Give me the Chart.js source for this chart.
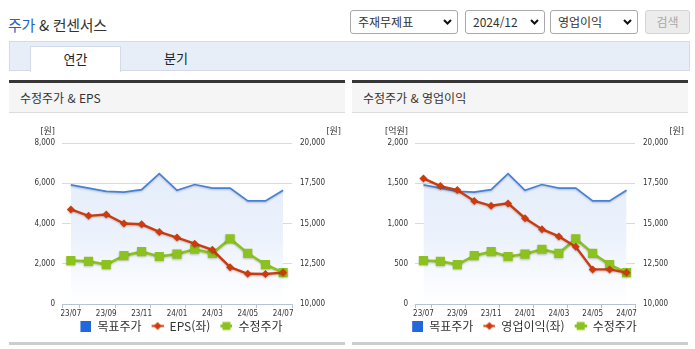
<!DOCTYPE html>
<html lang="ko">
<head>
<meta charset="utf-8">
<title>주가 &amp; 컨센서스</title>
<script src="https://cdn.jsdelivr.net/npm/chart.js@4.4.1/dist/chart.umd.min.js"></script>
<style>
  html, body { margin: 0; padding: 0; background: #fff; }
  body { width: 695px; height: 349px; position: relative; overflow: hidden;
         font-family: 'Noto Sans CJK KR', 'Noto Sans', sans-serif; color: #333; }
  #title { position: absolute; left: 8px; top: 14px; font-size: 15px; line-height: 22px;
           letter-spacing: -0.3px; white-space: nowrap; color: #333; }
  #title .hl { color: #1f63c9; }
  .sel { position: absolute; top: 10px; height: 22px; border: 1px solid #a9a9a9; border-radius: 3px;
         background: #fff; font-size: 12px; line-height: 22px; white-space: nowrap; }
  .sel span { position: absolute; left: 7px; top: 0; }
  .sel svg { position: absolute; right: 5px; top: 8px; }
  #btn { position: absolute; left: 645px; top: 10px; width: 43px; height: 22px; border: 1px solid #d4d4d4;
         border-radius: 3px; background: #ececec; color: #a8a8a8; font-size: 12px; line-height: 22px; text-align: center; }
  #tabbar { position: absolute; left: 9px; top: 41px; width: 679px; height: 28px; background: #e8eef8;
            border: 1px solid #d3dbe9; }
  #tabOn { position: absolute; left: 30px; top: 46px; width: 89px; height: 25px; background: #fff;
           border: 1px solid #d3dbe9; border-bottom: none; font-size: 13px; line-height: 24px; text-align: center; color: #222; }
  #tabOff { position: absolute; left: 150px; top: 46px; width: 52px; font-size: 13px; line-height: 24px; text-align: center; color: #222; }
  .panel { position: absolute; top: 80px; width: 336px; height: 265px; }
  .panel .bar { position: absolute; left: 0; top: 0; width: 100%; height: 3px; background: #363636; }
  .panel .head { position: absolute; left: 0; top: 3px; width: 100%; height: 29px; background: #f5f5f5;
                 border-bottom: 1px solid #dcdcdc; }
  .panel .head span { position: absolute; left: 11px; top: 0; font-size: 12px; line-height: 29px; color: #333; white-space: nowrap; }
  .panel .foot { position: absolute; left: 0; top: 262px; width: 100%; height: 3px; background: #cdcdcd; }
  .panel canvas { position: absolute; left: 0; top: 33px; }
</style>
</head>
<body>
<div id="title"><span class="hl">주가</span> &amp; 컨센서스</div>

<div class="sel" style="left:350px;width:106px;"><span>주재무제표</span>
  <svg width="9" height="6"><path d="M1 1 L4.5 4.5 L8 1" fill="none" stroke="#111" stroke-width="2"/></svg></div>
<div class="sel" style="left:465px;width:78px;"><span>2024/12</span>
  <svg width="9" height="6"><path d="M1 1 L4.5 4.5 L8 1" fill="none" stroke="#111" stroke-width="2"/></svg></div>
<div class="sel" style="left:550px;width:86px;"><span>영업이익</span>
  <svg width="9" height="6"><path d="M1 1 L4.5 4.5 L8 1" fill="none" stroke="#111" stroke-width="2"/></svg></div>
<div id="btn">검색</div>

<div id="tabbar"></div>
<div id="tabOn">연간</div>
<div id="tabOff">분기</div>

<div class="panel" style="left:9px;">
  <div class="bar"></div>
  <div class="head"><span>수정주가 &amp; EPS</span></div>
  <canvas id="chartEps" width="336" height="229"></canvas>
  <div class="foot"></div>
</div>

<div class="panel" style="left:352px;">
  <div class="bar"></div>
  <div class="head"><span>수정주가 &amp; 영업이익</span></div>
  <canvas id="chartProfit" width="336" height="229"></canvas>
  <div class="foot"></div>
</div>

<script>
// Monthly series, 2023/07 – 2024/07
const months = ['23/07', '23/08', '23/09', '23/10', '23/11', '23/12', '24/01',
                '24/02', '24/03', '24/04', '24/05', '24/06', '24/07'];
const targetPrice = [17400, 17200, 17000, 16950, 17100, 18100, 17060,
                     17420, 17200, 17200, 16400, 16400, 17060];           // 원, right axis
const adjPrice = [12700, 12650, 12450, 13000, 13250, 12950, 13100,
                  13400, 13150, 14050, 13150, 12450, 11950];              // 원, right axis
const eps = [4700, 4380, 4450, 4000, 3960, 3580, 3300,
             3000, 2690, 1830, 1500, 1490, 1560];                          // 원, left axis
const opProfit = [1560, 1465, 1415, 1280, 1220, 1250, 1065,
                  930, 840, 710, 430, 430, 390];                            // 억원, left axis

// Axis tick values
const epsTicks = [0, 2000, 4000, 6000, 8000];
const profitTicks = [0, 500, 1000, 1500, 2000];
const priceTicks = [10000, 12500, 15000, 17500, 20000];

const BLUE_LINE = '#4581d9';
const BLUE_KEY = '#2267dc';
const RED = '#cd3b0d';
const GREEN = '#8cc21e';
const AXIS = '#b7c2d6';
const GRID = '#dadada';
const TICK_FONT = { family: "'DejaVu Sans Condensed', 'DejaVu Sans', sans-serif", size: 8 };

// Legend keys (20px wide; the mark sits in the right 12px, leaving a gap before each key)
function keyIcon(kind) {
  const c = document.createElement('canvas');
  c.width = 20; c.height = 11;
  const g = c.getContext('2d');
  g.translate(8, 0);
  if (kind === 'box') {
    g.fillStyle = BLUE_KEY;
    g.fillRect(1, 0, 11, 11);
  } else if (kind === 'diamond') {
    g.strokeStyle = RED; g.lineWidth = 2;
    g.beginPath(); g.moveTo(0, 5.5); g.lineTo(12, 5.5); g.stroke();
    g.fillStyle = RED;
    g.beginPath(); g.moveTo(6, 1.5); g.lineTo(10, 5.5); g.lineTo(6, 9.5); g.lineTo(2, 5.5); g.closePath(); g.fill();
  } else {
    g.strokeStyle = GREEN; g.lineWidth = 3;
    g.beginPath(); g.moveTo(0, 5.5); g.lineTo(12, 5.5); g.stroke();
    g.fillStyle = GREEN;
    g.fillRect(2, 1.5, 8, 8);
  }
  return c;
}
const keyIcons = [keyIcon('box'), keyIcon('diamond'), keyIcon('square')];

// Unit captions above both value axes
const unitLabels = {
  id: 'unitLabels',
  afterDraw(chart, args, opts) {
    const { ctx, chartArea, scales, width } = chart;
    ctx.save();
    ctx.font = "9px 'DejaVu Sans Condensed', 'Noto Sans CJK KR', sans-serif";
    ctx.fillStyle = '#333';
    ctx.textBaseline = 'middle';
    ctx.textAlign = 'right';
    ctx.fillText(opts.left, scales.yL.right - 7, chartArea.top - 11);
    ctx.fillText(opts.right, width - 4, chartArea.top - 11);
    ctx.restore();
  }
};

// Soft drop shadow under the series lines
const lineShadow = {
  id: 'lineShadow',
  beforeDatasetDraw(chart) {
    const c = chart.ctx;
    c.save();
    c.shadowColor = 'rgba(0,0,0,0.22)';
    c.shadowBlur = 2;
    c.shadowOffsetY = 1;
  },
  afterDatasetDraw(chart) { chart.ctx.restore(); }
};

function areaFill(c) {
  const a = c.chart.chartArea;
  if (!a) return 'rgba(0,0,0,0)';
  const g = c.chart.ctx.createLinearGradient(0, a.top, 0, a.bottom);
  g.addColorStop(0, '#e1ebfa');
  g.addColorStop(0.6, '#ecf2fc');
  g.addColorStop(1, '#ffffff');
  return g;
}

const fmt = v => Number(v).toLocaleString('en-US');

function buildChart(id, seriesLabel, series, leftTicks, leftWidth, leftUnit) {
  return new Chart(document.getElementById(id), {
    type: 'line',
    data: {
      labels: months,
      datasets: [
        { label: '목표주가', data: targetPrice, yAxisID: 'yR', order: 3,
          borderColor: BLUE_LINE, borderWidth: 1.7, pointRadius: 0, fill: 'start',
          backgroundColor: areaFill },
        { label: seriesLabel, data: series, yAxisID: 'yL', order: 1,
          borderColor: RED, backgroundColor: RED, borderWidth: 2.4,
          pointStyle: 'rectRot', pointRadius: 4, pointBorderWidth: 0 },
        { label: '수정주가', data: adjPrice, yAxisID: 'yR', order: 2,
          borderColor: GREEN, backgroundColor: GREEN, borderWidth: 2.6,
          pointStyle: 'rect', pointRadius: 6.5, pointBorderWidth: 0 }
      ]
    },
    options: {
      responsive: false,
      animation: false,
      layout: { padding: { top: 30, left: 0, right: 0, bottom: 0 } },
      scales: {
        x: {
          offset: true,
          grid: {
            offset: true, drawOnChartArea: false, tickLength: 4,
            color: c => (c.type !== 'tick' || c.index % 2 === 1 || c.index === 0) ? AXIS : 'rgba(0,0,0,0)'
          },
          border: { color: AXIS },
          ticks: { autoSkip: false, maxRotation: 0, minRotation: 0, padding: 1, color: '#333', font: TICK_FONT,
                   callback: (v, i) => (i % 2 === 0 ? months[i] : '') },
          afterFit: s => { s.height = 14; }
        },
        yL: {
          position: 'left',
          min: leftTicks[0], max: leftTicks[leftTicks.length - 1],
          afterBuildTicks: s => { s.ticks = leftTicks.map(v => ({ value: v })); },
          grid: { drawTicks: false, color: c => (c.tick && c.tick.value === leftTicks[0]) ? 'rgba(0,0,0,0)' : GRID },
          border: { display: false },
          ticks: { padding: 7, color: '#333', font: TICK_FONT, callback: fmt },
          afterFit: s => { s.width = leftWidth; }
        },
        yR: {
          position: 'right',
          min: priceTicks[0], max: priceTicks[priceTicks.length - 1],
          afterBuildTicks: s => { s.ticks = priceTicks.map(v => ({ value: v })); },
          grid: { drawTicks: false, drawOnChartArea: false },
          border: { display: false },
          ticks: { padding: 8, color: '#333', font: TICK_FONT, callback: fmt },
          afterFit: s => { s.width = 53; }
        }
      },
      plugins: {
        tooltip: { enabled: false },
        unitLabels: { left: leftUnit, right: '[원]' },
        legend: {
          position: 'bottom',
          labels: {
            usePointStyle: true, pointStyleWidth: 20, padding: 2,
            color: '#333', font: { family: "'Noto Sans CJK KR', sans-serif", size: 12 },
            generateLabels: chart => chart.data.datasets.map((d, i) => ({
              text: d.label, pointStyle: keyIcons[i], fillStyle: 'rgba(0,0,0,0)',
              strokeStyle: 'rgba(0,0,0,0)', lineWidth: 0, hidden: false, datasetIndex: i, fontColor: '#333'
            }))
          }
        }
      }
    },
    plugins: [unitLabels, lineShadow]
  });
}

buildChart('chartEps', 'EPS(좌)', eps, epsTicks, 53, '[원]');
buildChart('chartProfit', '영업이익(좌)', opProfit, profitTicks, 63, '[억원]');
</script>
</body>
</html>
